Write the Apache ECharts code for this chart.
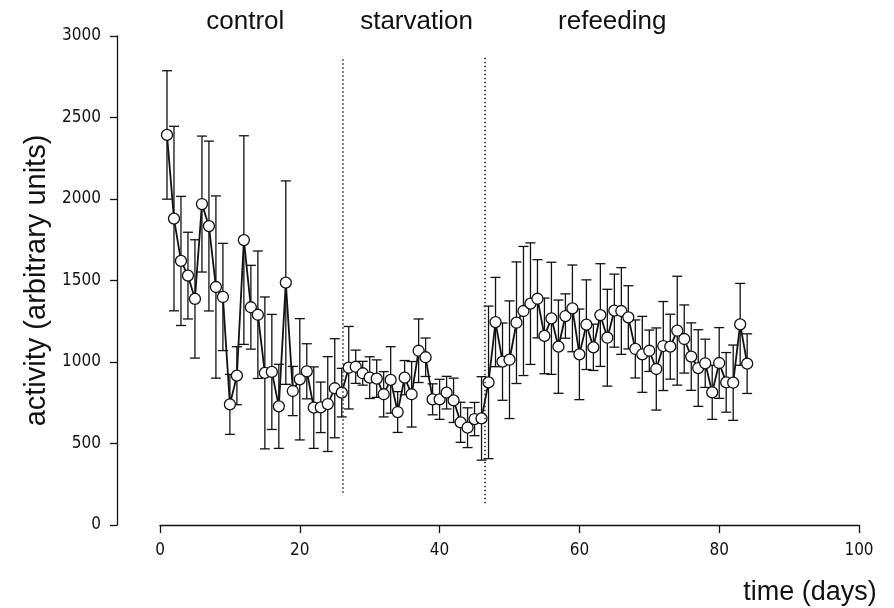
<!DOCTYPE html>
<html><head><meta charset="utf-8">
<script src="https://cdn.jsdelivr.net/npm/echarts@6/dist/echarts.min.js"></script>
<style>html,body{margin:0;padding:0;background:#fff}#c{width:894px;height:608px}</style>
</head><body><div id="c"></div>
<script>
// day index (time, days)
const days = [];
for (let d = 1; d <= 84; d++) days.push(d);

// mean activity (arbitrary units)
const activity = [
  2393, 1880, 1620, 1530, 1387, 1969, 1834, 1460, 1399, 740,
  916, 1748, 1336, 1290, 933, 939, 728, 1487, 822, 894,
  943, 720, 722, 742, 839, 812, 965, 971, 931, 904,
  898, 802, 890, 693, 904, 802, 1069, 1029, 771, 771,
  812, 765, 630, 597, 650, 654, 875, 1245, 1002, 1014,
  1241, 1313, 1358, 1388, 1160, 1268, 1094, 1282, 1329, 1047,
  1229, 1090, 1288, 1149, 1315, 1313, 1274, 1080, 1047, 1069,
  957, 1098, 1094, 1192, 1141, 1033, 963, 992, 814, 994,
  875, 873, 1231, 990
];

// error bar half-lengths
const errors = [
  394, 566, 396, 266, 363, 417, 521, 559, 329, 184,
  178, 640, 257, 391, 466, 353, 258, 624, 151, 372,
  169, 250, 155, 291, 304, 149, 253, 102, 73, 128,
  115, 139, 204, 125, 105, 201, 195, 118, 95, 123,
  100, 136, 123, 122, 102, 256, 468, 274, 237, 361,
  373, 396, 373, 240, 232, 344, 286, 136, 266, 278,
  275, 142, 315, 297, 224, 266, 194, 178, 233, 127,
  252, 273, 199, 334, 209, 207, 235, 148, 166, 217,
  183, 231, 251, 183
];

// phase boundaries (days) and their vertical extent (activity units)
const phaseBounds = [26.2, 46.4];
const phaseBoundLow = [198, 133];
const phaseBoundHigh = 2870;
const phaseNames = ['control', 'starvation', 'refeeding'];
const phaseNameDays = [12.2, 36.7, 64.7];

const xMin = 0, xMax = 100, xStep = 20;
const yMin = 0, yMax = 3000, yStep = 500;

const lineData = days.map((d, i) => [d, activity[i]]);
const errData = days.map((d, i) => [d, activity[i] - errors[i], activity[i] + errors[i]]);

const chart = echarts.init(document.getElementById('c'), null, {renderer: 'canvas'});
const FONT = '"Liberation Sans Narrow", "DejaVu Sans Condensed", "Liberation Sans", Arial, sans-serif';
const FONT2 = '"Liberation Sans", Arial, sans-serif';

const option = {
  backgroundColor: '#fff',
  animation: false,
  grid: {left: 160, right: 35, top: 36, bottom: 83},
  xAxis: {
    type: 'value', min: xMin, max: xMax, interval: xStep,
    splitLine: {show: false},
    axisLine: {show: true, onZero: false, lineStyle: {color: '#111', width: 1.3}},
    axisTick: {show: true, length: 8, lineStyle: {color: '#111', width: 1.3}},
    axisLabel: {color: '#111', fontSize: 17, fontFamily: FONT, margin: 17, formatter: v => String(v)}
  },
  yAxis: {
    type: 'value', min: yMin, max: yMax, interval: yStep,
    offset: 43,
    splitLine: {show: false},
    axisLine: {show: true, onZero: false, lineStyle: {color: '#111', width: 1.3}},
    axisTick: {show: true, length: 7, lineStyle: {color: '#111', width: 1.3}},
    axisLabel: {color: '#111', fontSize: 17, fontFamily: FONT, margin: 16, formatter: v => String(v)},
    name: 'activity (arbitrary units)',
    nameLocation: 'middle', nameGap: 62, nameRotate: 90,
    nameTextStyle: {color: '#111', fontSize: 29, fontFamily: FONT2}
  },
  series: [
    {
      type: 'custom',
      z: 1,
      data: errData,
      renderItem: function (params, api) {
        const x = api.value(0);
        const lo = api.coord([x, api.value(1)]);
        const hi = api.coord([x, api.value(2)]);
        const w = 5;
        const st = {stroke: '#111', lineWidth: 1.3};
        return {
          type: 'group',
          children: [
            {type: 'line', shape: {x1: hi[0], y1: hi[1], x2: lo[0], y2: lo[1]}, style: st},
            {type: 'line', shape: {x1: hi[0] - w, y1: hi[1], x2: hi[0] + w, y2: hi[1]}, style: st},
            {type: 'line', shape: {x1: lo[0] - w, y1: lo[1], x2: lo[0] + w, y2: lo[1]}, style: st}
          ]
        };
      },
      markLine: {
        silent: true, symbol: 'none', label: {show: false},
        lineStyle: {color: '#222', width: 1.5, type: [1.5, 2.5]},
        data: phaseBounds.map((b, i) => [{coord: [b, phaseBoundLow[i]]}, {coord: [b, phaseBoundHigh]}])
      }
    },
    {
      type: 'line',
      z: 3,
      data: lineData,
      symbol: 'circle', symbolSize: 11,
      lineStyle: {color: '#111', width: 1.8},
      itemStyle: {color: '#fff', borderColor: '#111', borderWidth: 1.3}
    }
  ]
};
chart.setOption(option);

// phase names and x-axis title, placed through the chart's own scales
const gfx = phaseNames.map((n, i) => {
  const p = chart.convertToPixel({gridIndex: 0}, [phaseNameDays[i], yMax]);
  return {type: 'text', x: p[0], y: 22, style: {text: n, fill: '#111', font: '26px ' + FONT2, align: 'center', verticalAlign: 'middle'}};
});
gfx.push({type: 'text', x: 810, y: 593, style: {text: 'time (days)', fill: '#111', font: '27px ' + FONT2, align: 'center', verticalAlign: 'middle'}});
chart.setOption({graphic: gfx});
</script>
</body></html>
